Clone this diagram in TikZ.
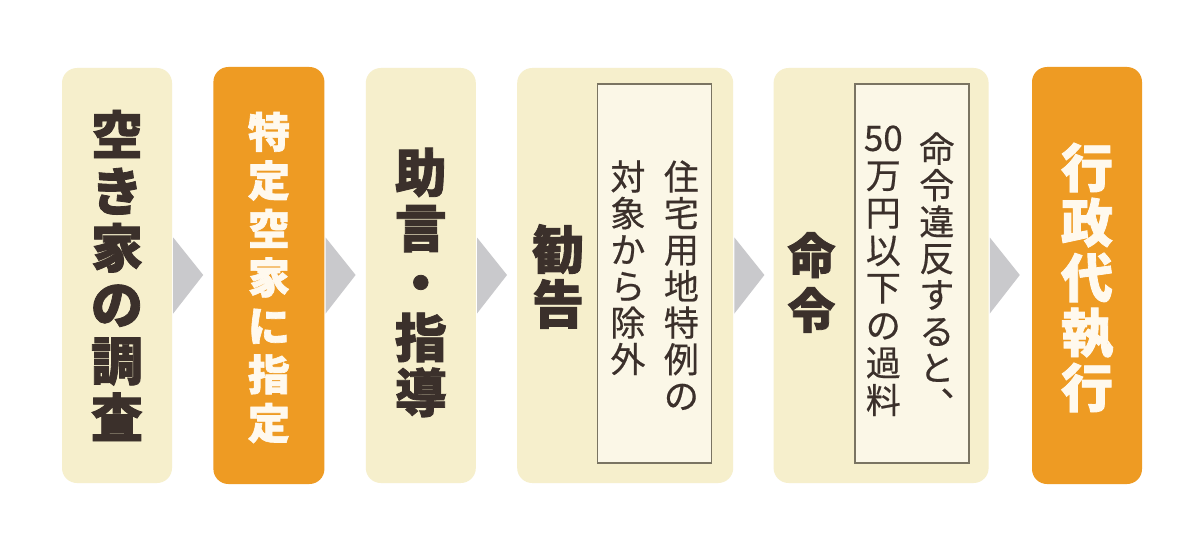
\documentclass[tikz,border=0pt]{standalone}
\usepackage{fontspec}
\newfontfamily\jpfont{Noto Sans CJK JP}[BoldFeatures={FakeBold=1.6}]
\newfontfamily\jpnote{Noto Sans CJK JP}[FakeBold=0.5]
\usepackage{xcolor}
\usetikzlibrary{positioning}

\definecolor{boxcream}{HTML}{F6EFCC}
\definecolor{boxorange}{HTML}{EE9B23}
\definecolor{notefill}{HTML}{FBF7E7}
\definecolor{noteline}{HTML}{7A7462}
\definecolor{arrowgray}{HTML}{C9C9CC}
\definecolor{textdark}{HTML}{3B302B}
\definecolor{textlight}{HTML}{FFF9EE}

\tikzset{
  creambox/.style={fill=boxcream, rounded corners=15pt, minimum height=415pt, inner sep=0pt},
  orangebox/.style={fill=boxorange, rounded corners=15pt, minimum height=417pt, inner sep=0pt},
  notebox/.style={fill=notefill, draw=noteline, line width=1.5pt, minimum width=114pt, minimum height=379pt, inner sep=0pt},
  bigtext/.style={align=center, inner sep=0pt, text=textdark, font=\jpfont\bfseries\fontsize{52}{55}\selectfont},
  notetext/.style={align=center, inner sep=0pt, anchor=north, text=textdark, font=\jpnote\fontsize{35}{36.5}\selectfont}
}

\begin{document}
\begin{tikzpicture}[x=1pt, y=-1pt]
    \useasboundingbox[fill=white] (0,0) rectangle (1199,543);

    % steps
    \node[creambox, minimum width=110pt] (survey) at (117,275.5) {};
    \node[orangebox, minimum width=111pt, right=41pt of survey] (designate) {};
    \node[creambox, minimum width=110pt, right=41pt of designate] (advice) {};
    \node[creambox, minimum width=216pt, right=41pt of advice] (recommend) {};
    \node[creambox, minimum width=215pt, right=40pt of recommend] (order) {};
    \node[orangebox, minimum width=110pt, right=43pt of order] (execute) {};

    % notes
    \node[notebox, left=21pt of recommend.east, yshift=2pt] (noteA) {};
    \node[notebox, left=19pt of order.east, yshift=2pt] (noteB) {};

    % arrows
    \foreach \s in {survey, designate, advice, recommend, order}
        \fill[arrowgray] ([xshift=1pt, yshift=38pt]\s.east) -- ([xshift=31pt, yshift=0.5pt]\s.east) -- ([xshift=1pt, yshift=-38pt]\s.east) -- cycle;

    % texts
    \node[bigtext, font=\jpfont\bfseries\fontsize{52}{56.5}\selectfont] (surveyT) at (survey.center) {空\\き\\家\\の\\調\\査};
    \node[bigtext, text=textlight, font=\jpfont\bfseries\fontsize{42}{48.5}\selectfont, yshift=-2pt] (designateT) at (designate.center) {特\\定\\空\\家\\に\\指\\定};
    \node[bigtext, yshift=-7pt] (adviceT) at (advice.center) {助\\言\\・\\指\\導};
    \node[bigtext, yshift=-1pt] (recommendT) at ([xshift=41pt]recommend.west) {勧\\告};
    \node[bigtext, font=\jpfont\bfseries\fontsize{48}{55}\selectfont, yshift=-7pt] (orderT) at ([xshift=38pt]order.west) {命\\令};
    \node[bigtext, text=textlight, yshift=-2pt] (executeT) at (execute.center) {行\\政\\代\\執\\行};

    \node[notetext] (noteA1) at ([xshift=-31pt, yshift=-77pt]noteA.north east) {住\\宅\\用\\地\\特\\例\\の};
    \node[notetext] (noteA2) at ([xshift=31pt, yshift=-77pt]noteA.north west) {対\\象\\か\\ら\\除\\外};
    \node[notetext] (noteB1) at ([xshift=-33pt, yshift=-49pt]noteB.north east) {命\\令\\違\\反\\す\\る\\と\\︑};
    \node[notetext, font=\jpnote\fontsize{35}{37.5}\selectfont] (noteB2) at ([xshift=29pt, yshift=-42pt]noteB.north west) {50\\万\\円\\以\\下\\の\\過\\料};

\end{tikzpicture}
\end{document}
